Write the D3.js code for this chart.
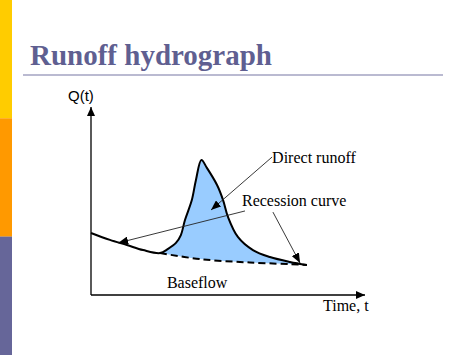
<!DOCTYPE html>
<html><head><meta charset="utf-8">
<script src="https://cdn.jsdelivr.net/npm/d3@7"></script>
<style>html,body{margin:0;padding:0;background:#fff;}svg{display:block;}</style>
</head><body>
<script>
// Hydrograph (time, discharge) in arbitrary units
const hydroT = [0, 0.69, 1.31, 1.90, 2.52, 2.81, 3.10, 3.28, 3.43, 3.68, 3.83, 4.03, 4.23, 4.60, 4.82, 5.00, 5.36, 5.91, 6.53, 7.26, 7.88];
const hydroQ = [3.30, 2.93, 2.66, 2.39, 2.23, 2.45, 2.77, 3.19, 3.99, 5.05, 6.12, 7.18, 6.76, 5.85, 5.05, 4.15, 3.09, 2.39, 2.02, 1.76, 1.60];
// Baseflow separation line
const baseT = [2.52, 3.98, 5.80, 7.63, 7.88];
const baseQ = [2.23, 1.91, 1.73, 1.62, 1.60];
// Annotation arrows: [from t, from Q, to t, to Q]
const arrowFromT = [6.61, 5.62, 6.64];
const arrowFromQ = [7.34, 4.47, 4.41];
const arrowToT = [4.38, 0.99, 7.63];
const arrowToQ = [4.52, 2.77, 1.70];
// Labels
const labelText = ["Direct runoff", "Recession curve", "Baseflow"];
const labelT = [6.61, 5.51, 2.77];
const labelQ = [7.02, 4.74, 0.37];
const titleText = "Runoff hydrograph";
const yAxisLabel = "Q(t)";
const xAxisLabel = "Time, t";

const W = 474, H = 355;
const svg = d3.select("body").append("svg").attr("width", W).attr("height", H);

// left decorative bar
const barColors = ["#FFCC00", "#FF9900", "#666699"];
barColors.forEach((c, i) => {
  svg.append("rect").attr("x", 0).attr("y", i * 118.3).attr("width", 12).attr("height", 118.4).attr("fill", c);
});

svg.append("text").attr("x", 30).attr("y", 65).text(titleText)
  .attr("font-family", "Liberation Serif, Times New Roman, serif").attr("font-weight", "bold")
  .attr("font-size", 29).attr("fill", "#5F5F91");
svg.append("line").attr("x1", 23).attr("x2", 443).attr("y1", 75).attr("y2", 75)
  .attr("stroke", "#A3A3C2").attr("stroke-width", 1.6);

const x = d3.scaleLinear().domain([0, 10]).range([91, 365]);
const y = d3.scaleLinear().domain([0, 10]).range([295, 107]);

const defs = svg.append("defs");
function marker(id, w, l) {
  defs.append("marker").attr("id", id).attr("viewBox", `0 -${w} ${l} ${2*w}`)
    .attr("refX", l).attr("refY", 0).attr("markerUnits", "userSpaceOnUse")
    .attr("markerWidth", l).attr("markerHeight", 2 * w).attr("orient", "auto")
    .append("path").attr("d", `M0,-${w}L${l},0L0,${w}Z`).attr("fill", "#000");
}
marker("ax", 4, 9);
marker("ar", 4, 10);

// fill between hydrograph and baseflow
const hydro = hydroT.map((t, i) => [t, hydroQ[i]]);
const base = baseT.map((t, i) => [t, baseQ[i]]);
const line = d3.line().x(d => x(d[0])).y(d => y(d[1])).curve(d3.curveCatmullRom.alpha(0.5));
const seg = hydro.filter(d => d[0] >= 2.52);
const fillPath = line(seg) + "L" + line(base.slice().reverse()).slice(1) + "Z";
svg.append("path").attr("d", fillPath).attr("fill", "#99CCFF").attr("stroke", "none");

// axes
svg.append("line").attr("x1", x(0)).attr("y1", y(0)).attr("x2", x(0)).attr("y2", y(10))
  .attr("stroke", "#000").attr("stroke-width", 1.3).attr("marker-end", "url(#ax)");
svg.append("line").attr("x1", x(0)).attr("y1", y(0)).attr("x2", x(10)).attr("y2", y(0))
  .attr("stroke", "#000").attr("stroke-width", 1.3).attr("marker-end", "url(#ax)");

// baseflow dashed
svg.append("path").attr("d", line(base)).attr("fill", "none").attr("stroke", "#000")
  .attr("stroke-width", 2).attr("stroke-dasharray", "7,4");
// hydrograph
svg.append("path").attr("d", line(hydro)).attr("fill", "none").attr("stroke", "#000")
  .attr("stroke-width", 2).attr("stroke-linejoin", "round");

// annotation arrows
arrowFromT.forEach((t, i) => {
  svg.append("line").attr("x1", x(t)).attr("y1", y(arrowFromQ[i]))
    .attr("x2", x(arrowToT[i])).attr("y2", y(arrowToQ[i]))
    .attr("stroke", "#222").attr("stroke-width", 0.9).attr("marker-end", "url(#ar)");
});

const font = "Liberation Serif, Times New Roman, serif";
labelText.forEach((s, i) => {
  svg.append("text").attr("x", x(labelT[i])).attr("y", y(labelQ[i])).text(s)
    .attr("font-family", font).attr("font-size", 16).attr("fill", "#000");
});
svg.append("text").attr("x", 68).attr("y", 101).text(yAxisLabel)
  .attr("font-family", "Liberation Sans, Arial, sans-serif").attr("font-size", 15);
svg.append("text").attr("x", 323).attr("y", 311).text(xAxisLabel)
  .attr("font-family", font).attr("font-size", 16);
</script>
</body></html>
